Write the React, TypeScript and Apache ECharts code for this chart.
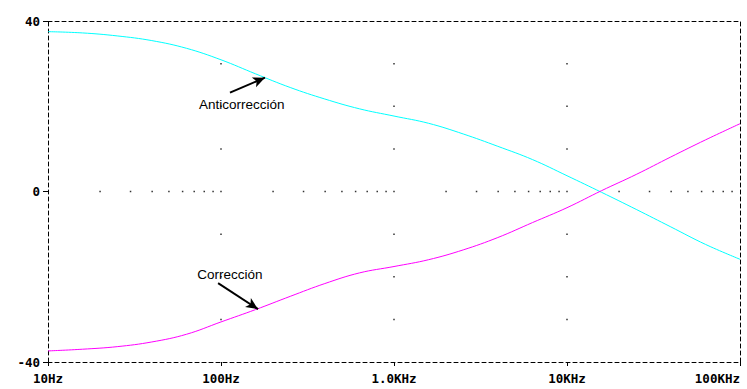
import React, { useEffect, useRef } from "react";
import * as echarts from "echarts";

const freqs = [10, 15.85, 25.12, 39.81, 63.1, 100, 158.5, 251.2, 398.1, 631, 1000, 1585, 2512, 3981, 6310, 10000, 15850, 25120, 39810, 63100, 100000];
const anticorreccion = [37.5, 37.2, 36.5, 35.4, 33.6, 30.9, 27.6, 24.4, 21.7, 19.4, 17.7, 16.0, 13.5, 10.6, 7.5, 3.7, -0.2, -4.2, -8.3, -12.4, -15.9];
const correccion = [-37.4, -37.0, -36.4, -35.3, -33.5, -30.6, -27.7, -24.6, -21.6, -19.1, -17.6, -16.0, -13.7, -10.8, -7.3, -3.8, 0.2, 4.0, 8.1, 12.1, 15.9];

const xTickValues = [10, 100, 1000, 10000, 100000];
const xTickLabels = ["10Hz", "100Hz", "1.0KHz", "10KHz", "100KHz"];
const yTicks = [-40, 0, 40];

const gridDecades = [100, 1000, 10000];
const gridLevels = [-30, -20, -10, 10, 20, 30];
const minorMultipliers = [2, 3, 4, 5, 6, 7, 8, 9];
const minorDecades = [10, 100, 1000, 10000];

// annotation anchors (data space)
const antiArrow = { from: [112.7, 23.2], to: [179.5, 26.7], label: [132, 20.4], text: "Anticorrección" };
const corrArrow = { from: [96.2, -21.5], to: [163.7, -27.6], label: [112.7, -19.4], text: "Corrección" };

export default function App() {
  const ref = useRef<HTMLDivElement>(null);
  useEffect(() => {
    if (!ref.current) return;
    const chart = echarts.init(ref.current, null, { renderer: "svg" });

    const dots: number[][] = [];
    gridDecades.forEach((x) => gridLevels.forEach((y) => dots.push([x, y])));
    minorDecades.forEach((d) => minorMultipliers.forEach((m) => dots.push([d * m, 0])));
    gridDecades.forEach((x) => dots.push([x, 0]));

    const dashed = { color: "#000", width: 1, type: [4, 3] as any };
    const labelFont = { fontFamily: "DejaVu Sans Mono", fontWeight: "bold" as any, fontSize: 12.5, color: "#000" };

    const annoLabel = (p: any) => ({
      coord: p.label,
      symbol: "circle",
      symbolSize: 0,
      label: {
        show: true,
        position: "inside",
        formatter: p.text,
        fontFamily: "Liberation Sans",
        fontSize: 13.5,
        color: "#000",
      },
    });

    const arrow = (a: any) => ({
      markLine: {
        silent: true,
        symbol: ["none", "arrow"],
        symbolSize: [8, 12],
        lineStyle: { color: "#000", width: 2, type: "solid" },
        label: { show: false },
        data: [[{ coord: a.from }, { coord: a.to }]],
      },
      markPoint: { silent: true, data: [annoLabel(a)] },
    });

    chart.setOption({
      animation: false,
      backgroundColor: "#fff",
      grid: { left: 48, right: 7, top: 21, bottom: 27, containLabel: false },
      xAxis: [
        {
          type: "log",
          logBase: 10,
          min: 10,
          max: 100000,
          axisLine: { show: true, onZero: false, lineStyle: dashed },
          axisTick: { show: true, length: 4, lineStyle: { color: "#000" } },
          minorTick: { show: false },
          splitLine: { show: false },
          axisLabel: {
            ...labelFont,
            margin: 10,
            alignMaxLabel: "right",
            formatter: (v: number) => {
              const i = xTickValues.findIndex((t) => Math.abs(Math.log10(t) - Math.log10(v)) < 1e-6);
              return i >= 0 ? xTickLabels[i] : "";
            },
          },
        },
        {
          type: "log",
          logBase: 10,
          min: 10,
          max: 100000,
          position: "top",
          axisLine: { show: true, onZero: false, lineStyle: dashed },
          axisTick: { show: false },
          axisLabel: { show: false },
          splitLine: { show: false },
        },
      ],
      yAxis: [
        {
          type: "value",
          min: yTicks[0],
          max: yTicks[yTicks.length - 1],
          interval: 40,
          axisLine: { show: true, onZero: false, lineStyle: dashed },
          axisTick: { show: true, length: 5, lineStyle: { color: "#000" } },
          splitLine: { show: false },
          axisLabel: { ...labelFont, margin: 8 },
        },
        {
          type: "value",
          min: -40,
          max: 40,
          interval: 40,
          position: "right",
          axisLine: { show: true, onZero: false, lineStyle: dashed },
          axisTick: { show: false },
          axisLabel: { show: false },
          splitLine: { show: false },
        },
      ],
      series: [
        {
          name: "grid dots",
          type: "scatter",
          silent: true,
          symbol: "rect",
          symbolSize: 1.5,
          itemStyle: { color: "#000" },
          data: dots,
          z: 1,
        },
        {
          name: "Anticorrección",
          type: "line",
          showSymbol: false,
          symbol: "none",
          smooth: 0.4,
          lineStyle: { color: "#00ffff", width: 1 },
          data: freqs.map((f, i) => [f, anticorreccion[i]]),
          z: 3,
          ...arrow(antiArrow),
        },
        {
          name: "Corrección",
          type: "line",
          showSymbol: false,
          symbol: "none",
          smooth: 0.4,
          lineStyle: { color: "#ff00ff", width: 1 },
          data: freqs.map((f, i) => [f, correccion[i]]),
          z: 3,
          ...arrow(corrArrow),
        },
      ],
    });
    return () => chart.dispose();
  }, []);
  return (
    <div
      ref={ref}
      style={{ position: "absolute", left: 0, top: 0, width: 747, height: 389, background: "#fff" }}
    />
  );
}
